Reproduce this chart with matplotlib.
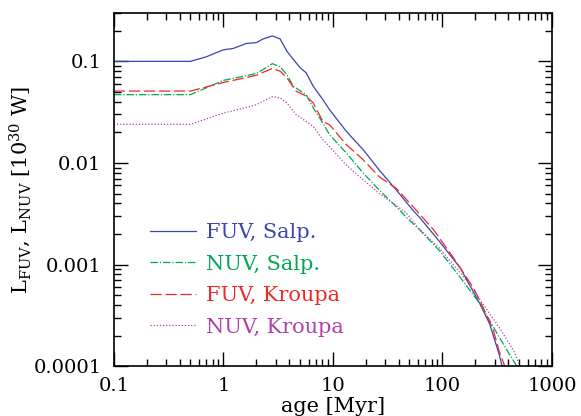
import matplotlib
matplotlib.use('Agg')
import matplotlib.pyplot as plt
from matplotlib.ticker import LogLocator, NullFormatter, FixedLocator, FixedFormatter

plt.rcParams['font.family'] = ['DejaVu Serif']
plt.rcParams['mathtext.fontset'] = 'dejavuserif'

# age [Myr] and luminosities [1e30 W]
age_fuv_salp = [0.1, 0.5, 0.7, 1.0, 1.23, 1.62, 2.0, 2.3, 2.8, 3.3, 3.8, 4.34, 5.0, 5.7, 6.6, 8.1, 9.3,
                13.3, 19, 26.5, 38, 54, 62, 95, 145, 220, 270, 330, 350]
fuv_salp = [0.100, 0.100, 0.111, 0.130, 0.134, 0.150, 0.153, 0.166, 0.178, 0.166, 0.126, 0.105, 0.087,
            0.077, 0.057, 0.042, 0.0335, 0.0204, 0.0134, 0.0085, 0.0054, 0.0034, 0.0029, 0.00166,
            0.00093, 0.00041, 0.00026, 0.00013, 0.0001]

age_nuv_salp = [0.1, 0.5, 0.7, 1.0, 1.6, 2.0, 2.3, 2.8, 3.3, 3.8, 4.34, 5.7, 6.6, 8.1, 9.3, 13.3, 19,
                26.5, 38, 47, 62, 95, 145, 220, 315, 410, 478]
nuv_salp = [0.047, 0.047, 0.055, 0.065, 0.072, 0.076, 0.083, 0.095, 0.088, 0.074, 0.057, 0.047, 0.035,
            0.0247, 0.019, 0.0125, 0.0079, 0.0054, 0.0037, 0.0029, 0.0022, 0.00135, 0.00075, 0.00041,
            0.00021, 0.00013, 0.0001]

age_fuv_kr = [0.1, 0.5, 0.7, 1.0, 1.6, 2.0, 2.3, 2.8, 3.3, 3.8, 4.6, 5.7, 6.6, 8.1, 9.3, 13.3, 19,
              26.5, 38, 54, 83, 125, 190, 220, 290, 330, 370]
fuv_kr = [0.051, 0.051, 0.056, 0.062, 0.069, 0.073, 0.078, 0.085, 0.080, 0.069, 0.051, 0.0455, 0.039,
          0.0256, 0.0238, 0.0151, 0.0107, 0.0073, 0.0056, 0.0037, 0.0022, 0.00118, 0.0006, 0.00044,
          0.00023, 0.00014, 0.0001]

age_nuv_kr = [0.1, 0.5, 1.0, 1.6, 2.0, 2.8, 3.3, 3.8, 4.6, 5.7, 6.6, 8.1, 9.3, 13.3, 19, 26.5, 38, 47,
              62, 95, 165, 250, 330, 450, 500, 505]
nuv_kr = [0.024, 0.024, 0.031, 0.035, 0.0375, 0.045, 0.0437, 0.039, 0.030, 0.0256, 0.0229, 0.0169,
          0.0145, 0.0095, 0.0068, 0.0050, 0.0038, 0.0032, 0.0022, 0.00143, 0.0007, 0.00037, 0.00024,
          0.00014, 0.000106, 0.0001]

fig = plt.figure(figsize=(5.81, 4.16), dpi=100)
ax = fig.add_axes([0.196, 0.120, 0.754, 0.849])

ax.plot(age_fuv_salp, fuv_salp, color='#3a45b0', lw=0.9, label='FUV, Salp.')
ax.plot(age_nuv_salp, nuv_salp, color='#00a850', lw=0.9, dashes=(6, 1.5, 1, 1.5), label='NUV, Salp.')
ax.plot(age_fuv_kr, fuv_kr, color='#f02828', lw=0.9, dashes=(9, 3), label='FUV, Kroupa')
ax.plot(age_nuv_kr, nuv_kr, color='#b040b0', lw=0.9, dashes=(1, 1.5), label='NUV, Kroupa')

ax.set_xscale('log')
ax.set_yscale('log')
ax.set_xlim(0.1, 1000)
ax.set_ylim(0.0001, 0.3)

ax.xaxis.set_major_locator(FixedLocator([0.1, 1, 10, 100, 1000]))
ax.xaxis.set_major_formatter(FixedFormatter(['0.1', '1', '10', '100', '1000']))
ax.yaxis.set_major_locator(FixedLocator([0.0001, 0.001, 0.01, 0.1]))
ax.yaxis.set_major_formatter(FixedFormatter(['0.0001', '0.001', '0.01', '0.1']))
ax.xaxis.set_minor_locator(LogLocator(base=10, subs=range(2, 10)))
ax.yaxis.set_minor_locator(LogLocator(base=10, subs=range(2, 10)))
ax.xaxis.set_minor_formatter(NullFormatter())
ax.yaxis.set_minor_formatter(NullFormatter())

ax.tick_params(which='both', direction='in', top=True, right=True, labelsize=14, width=1.0)
ax.tick_params(which='major', length=10)
ax.tick_params(which='minor', length=5)
ax.tick_params(axis='y', which='major', pad=9)
ax.tick_params(axis='x', which='major', pad=8)
for s in ax.spines.values():
    s.set_linewidth(1.2)

ax.set_xlabel('age [Myr]', fontsize=15, labelpad=1)
ax.set_ylabel(r'L$_\mathrm{FUV}$, L$_\mathrm{NUV}$ [10$^{30}$ W]', fontsize=15, labelpad=0)

leg = ax.legend(loc='lower left', bbox_to_anchor=(0.04, 0.03), frameon=False, fontsize=15,
                handlelength=2.2, labelspacing=0.6, handletextpad=0.5)
for line, text in zip(leg.get_lines(), leg.get_texts()):
    text.set_color(line.get_color())

fig.savefig('out.png', dpi=100)
